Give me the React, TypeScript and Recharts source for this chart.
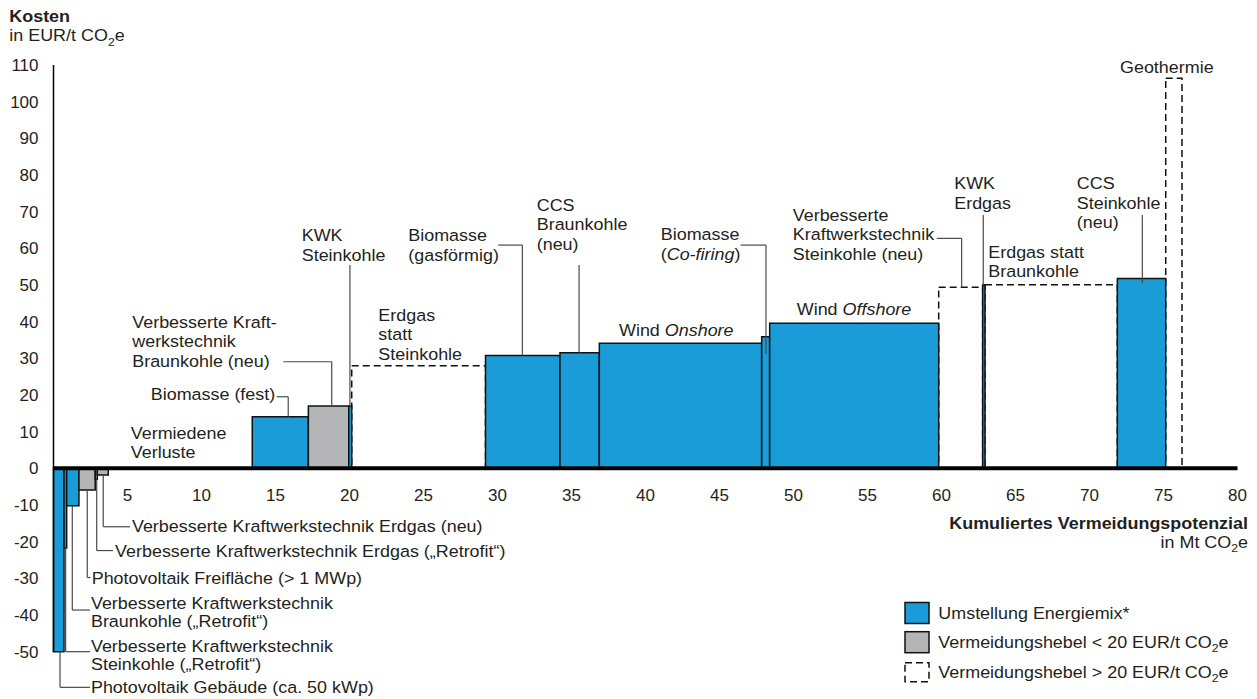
import React from 'react';
import { ComposedChart, XAxis, YAxis, ReferenceArea, ReferenceLine, ReferenceDot } from 'recharts';

const FONT = '"Liberation Sans", Arial, Helvetica, sans-serif';
const TEXT = '#231f20';
const LABEL_SIZE = 16.3;
const STRETCH = 1.1;
const W = 1257;
const H = 699;

// ---- data ----
const levers = [
  'Photovoltaik Gebäude (ca. 50 kWp)',
  'Verbesserte Kraftwerkstechnik Steinkohle („Retrofit“)',
  'Verbesserte Kraftwerkstechnik Braunkohle („Retrofit“)',
  'Photovoltaik Freifläche (> 1 MWp)',
  'Verbesserte Kraftwerkstechnik Erdgas („Retrofit“)',
  'Verbesserte Kraftwerkstechnik Erdgas (neu)',
  'Vermiedene Verluste',
  'Biomasse (fest)',
  'Verbesserte Kraftwerkstechnik Braunkohle (neu)',
  'KWK Steinkohle',
  'Erdgas statt Steinkohle',
  'Biomasse (gasförmig)',
  'CCS Braunkohle (neu)',
  'Wind Onshore',
  'Biomasse (Co-firing)',
  'Wind Offshore',
  'Verbesserte Kraftwerkstechnik Steinkohle (neu)',
  'KWK Erdgas',
  'Erdgas statt Braunkohle',
  'CCS Steinkohle (neu)',
  'Geothermie',
];
// abatement potential of each lever, Mt CO2e
const potentials = [0.71, 0.18, 0.83, 1.1, 0.14, 0.74, 9.73, 3.79, 2.73, 0.2, 9.04, 5.03, 2.66, 10.97, 0.54, 11.42, 2.97, 0.16, 8.94, 3.27, 1.1];
// abatement cost, EUR/t CO2e
const costs = [-50, -21.7, -10.2, -5.9, -3.0, -1.8, 0, 14.1, 17.0, 17.0, 28.0, 30.8, 31.5, 34.1, 35.9, 39.6, 49.4, 50.0, 50.1, 51.8, 106.4];
const groups = ['energy', 'energy', 'energy', 'low', 'low', 'low', 'none', 'energy', 'low', 'energy', 'high', 'energy', 'energy', 'energy', 'energy', 'energy', 'high', 'energy', 'high', 'energy', 'high'];

const xTicks = [5, 10, 15, 20, 25, 30, 35, 40, 45, 50, 55, 60, 65, 70, 75, 80];
const yTicks = [-50, -40, -30, -20, -10, 0, 10, 20, 30, 40, 50, 60, 70, 80, 90, 100, 110];

const legendLabels = ['Umstellung Energiemix*', 'Vermeidungshebel < 20 EUR/t CO~2~e', 'Vermeidungshebel > 20 EUR/t CO~2~e'];
const legendGroups = ['energy', 'low', 'high'];

// annotation texts and their anchor points (data coordinates)
const annotations: { lines: string[]; x: number; y: number; lh?: number }[] = [
  { lines: ['Vermiedene', 'Verluste'], x: 5.22, y: 9.6, lh: 18.8 },
  { lines: ['Biomasse (fest)'], x: 6.57, y: 20.3 },
  { lines: ['Verbesserte Kraft-', 'werkstechnik', 'Braunkohle (neu)'], x: 5.32, y: 39.9 },
  { lines: ['KWK', 'Steinkohle'], x: 16.77, y: 63.6 },
  { lines: ['Biomasse', '(gasförmig)'], x: 23.97, y: 63.6 },
  { lines: ['CCS', 'Braunkohle', '(neu)'], x: 32.65, y: 71.8 },
  { lines: ['Erdgas', 'statt', 'Steinkohle'], x: 21.95, y: 41.8 },
  { lines: ['Wind _Onshore_'], x: 38.21, y: 37.7 },
  { lines: ['Biomasse', '(_Co-firing_)'], x: 41.03, y: 63.8 },
  { lines: ['Wind _Offshore_'], x: 50.22, y: 43.4 },
  { lines: ['Verbesserte', 'Kraftwerkstechnik', 'Steinkohle (neu)'], x: 49.95, y: 69.1 },
  { lines: ['KWK', 'Erdgas'], x: 60.86, y: 77.7 },
  { lines: ['Erdgas statt', 'Braunkohle'], x: 63.16, y: 59.1 },
  { lines: ['CCS', 'Steinkohle', '(neu)'], x: 69.14, y: 77.7 },
  { lines: ['Geothermie'], x: 72.06, y: 109.5 },
  { lines: ['Verbesserte Kraftwerkstechnik Erdgas (neu)'], x: 5.3, y: -15.7 },
  { lines: ['Verbesserte Kraftwerkstechnik Erdgas („Retrofit“)'], x: 4.16, y: -22.6 },
  { lines: ['Photovoltaik Freifläche (> 1 MWp)'], x: 2.58, y: -29.8 },
  { lines: ['Verbesserte Kraftwerkstechnik', 'Braunkohle („Retrofit“)'], x: 2.53, y: -36.7, lh: 18.3 },
  { lines: ['Verbesserte Kraftwerkstechnik', 'Steinkohle („Retrofit“)'], x: 2.53, y: -48.4, lh: 18.3 },
  { lines: ['Photovoltaik Gebäude (ca. 50 kWp)'], x: 2.53, y: -59.6 },
];

// leader lines (data coordinates)
const leaders: number[][][] = [
  [[3.36, -1.8], [3.36, -15.93], [5.17, -15.93]],
  [[2.92, -3.0], [2.92, -22.42], [4.02, -22.42]],
  [[2.28, -5.9], [2.28, -29.78], [2.5, -29.78]],
  [[1.27, -10.2], [1.27, -38.64], [2.47, -38.64]],
  [[0.82, -21.7], [0.82, -50.0], [2.47, -50.0]],
  [[0.44, -50], [0.44, -59.72], [2.47, -59.72]],
  [[15.08, 19.53], [15.86, 19.53], [15.86, 14.1]],
  [[15.53, 29.07], [18.8, 29.07], [18.8, 17.0]],
  [[20.03, 55.44], [20.03, 17.0]],
  [[30.05, 60.89], [31.68, 60.89], [31.68, 30.8]],
  [[35.51, 55.44], [35.51, 31.5]],
  [[46.43, 60.89], [48.14, 60.89], [48.14, 31.17]],
  [[59.68, 62.72], [61.36, 62.72], [61.36, 49.4]],
  [[62.82, 69.08], [62.82, 50.0]],
  [[73.57, 69.08], [73.57, 50.45]],
];

// ---- derived table ----
const starts: number[] = [];
const ends: number[] = [];
potentials.reduce((acc, w) => {
  starts.push(acc);
  ends.push(acc + w);
  return acc + w;
}, 0);
const bars = levers.map((name, i) => ({ name, x1: starts[i], x2: ends[i], cost: costs[i], group: groups[i] }));
const orderedBars = [...bars.filter((b) => b.group === 'high'), ...bars.filter((b) => b.group !== 'high' && b.group !== 'none')];

const groupStyle: Record<string, any> = {
  energy: { fill: '#1a9cd8', fillOpacity: 1, stroke: '#111', strokeWidth: 1.5 },
  low: { fill: '#b3b5b7', fillOpacity: 1, stroke: '#111', strokeWidth: 1.5 },
  high: { fill: '#ffffff', fillOpacity: 0, stroke: '#111', strokeWidth: 1.5, strokeDasharray: '7 4' },
};

// ---- text helpers ----
function rich(line: string, size: number) {
  const parts = line.split(/([_~])/);
  let italic = false;
  let sub = false;
  let pending = 0;
  const out: any[] = [];
  parts.forEach((p, i) => {
    if (p === '_') {
      italic = !italic;
      return;
    }
    if (p === '~') {
      pending += sub ? -size * 0.27 : size * 0.27;
      sub = !sub;
      return;
    }
    if (!p) return;
    out.push(
      <tspan key={i} fontStyle={italic ? 'italic' : undefined} fontSize={sub ? size * 0.68 : undefined} dy={pending || undefined}>
        {p}
      </tspan>
    );
    pending = 0;
  });
  return out;
}

function TextBlock({ x, y, lines, size = LABEL_SIZE, lh = 19.5, anchor = 'start', bold = false, stretch = STRETCH }: any) {
  return (
    <g transform={`translate(${x},${y}) scale(${stretch},1)`}>
      <text x={0} y={0} textAnchor={anchor} fontFamily={FONT} fontSize={size} fontWeight={bold ? 'bold' : 'normal'} fill={TEXT}>
        {lines.map((l: string, i: number) => (
          <tspan key={i} x={0} dy={i === 0 ? size * 0.36 : lh}>
            {rich(l, size)}
          </tspan>
        ))}
      </text>
    </g>
  );
}

export default function App() {
  return (
    <div style={{ position: 'absolute', left: 0, top: 0, width: W, height: H, background: '#fff', fontFamily: FONT }}>
      <ComposedChart width={W} height={H} margin={{ top: 65, right: 19.5, bottom: 47.3, left: 0 }}>
        <XAxis type="number" dataKey="x" domain={[0, 80]} allowDataOverflow hide />
        <YAxis
          type="number"
          domain={[-50, 110]}
          ticks={yTicks}
          interval={0}
          allowDataOverflow
          width={53.5}
          tickLine={false}
          tickSize={0}
          tickMargin={15}
          axisLine={{ stroke: '#000', strokeWidth: 1.5 }}
          tick={{ fontSize: 17, fill: TEXT, fontFamily: FONT }}
        />
        {orderedBars.map((b) => (
          <ReferenceArea
            key={b.name}
            x1={b.x1}
            x2={b.x2}
            y1={Math.min(0, b.cost)}
            y2={Math.max(0, b.cost)}
            ifOverflow="visible"
            {...groupStyle[b.group]}
          />
        ))}
        {leaders.map((pts, li) =>
          pts.slice(1).map((p, si) => (
            <ReferenceLine
              key={`l${li}-${si}`}
              segment={[
                { x: pts[si][0], y: pts[si][1] },
                { x: p[0], y: p[1] },
              ]}
              stroke="#4a4a4a"
              strokeWidth={1.2}
              ifOverflow="visible"
            />
          ))
        )}
        <ReferenceLine y={0} stroke="#000" strokeWidth={4} ifOverflow="visible" />
        {xTicks.map((t) => (
          <ReferenceDot
            key={`t${t}`}
            x={t}
            y={-7.36}
            r={1}
            ifOverflow="visible"
            shape={(p: any) => (
              <text x={p.cx} y={p.cy} dy={17 * 0.36} textAnchor="middle" fontSize={17} fontFamily={FONT} fill={TEXT}>
                {t}
              </text>
            )}
          />
        ))}
        {annotations.map((a, i) => (
          <ReferenceDot
            key={`a${i}`}
            x={a.x}
            y={a.y}
            r={1}
            ifOverflow="visible"
            shape={(p: any) => <TextBlock x={p.cx} y={p.cy} lines={a.lines} lh={a.lh ?? 19.5} />}
          />
        ))}
      </ComposedChart>
      <svg width={W} height={H} style={{ position: 'absolute', left: 0, top: 0, pointerEvents: 'none' }}>
        <TextBlock x={9.3} y={16.3} lines={['Kosten']} bold />
        <TextBlock x={9.3} y={35.3} lines={['in EUR/t CO~2~e']} />
        <TextBlock x={1248} y={523.3} lines={['Kumuliertes Vermeidungspotenzial']} bold anchor="end" />
        <TextBlock x={1248} y={541.7} lines={['in Mt CO~2~e']} anchor="end" />
        {legendLabels.map((l, i) => {
          const top = [602.5, 631.7, 662.7][i];
          const st = groupStyle[legendGroups[i]];
          return (
            <g key={l}>
              <rect x={905} y={top} width={24} height={i === 2 ? 19 : 21} fill={st.fillOpacity === 0 ? 'none' : st.fill} stroke={st.stroke} strokeWidth={1.5} strokeDasharray={st.strokeDasharray} />
              <TextBlock x={938.3} y={[613.3, 641.7, 671.7][i]} lines={[l]} />
            </g>
          );
        })}
      </svg>
    </div>
  );
}
